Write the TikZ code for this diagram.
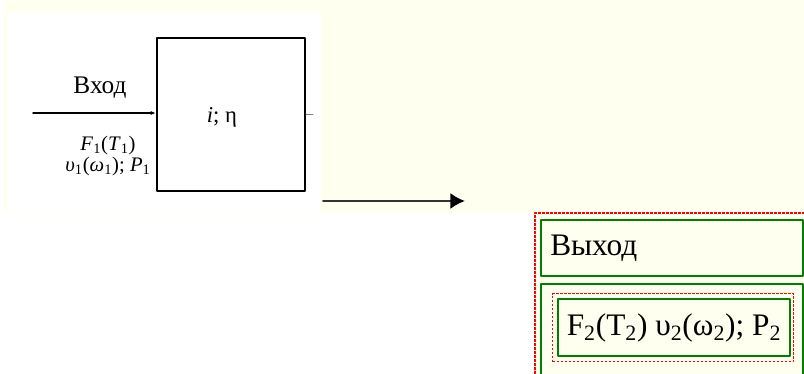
\documentclass[tikz,border=0pt]{standalone}
\usepackage{fontspec}
\setmainfont{Liberation Serif}
\usetikzlibrary{arrows.meta}
\definecolor{paper}{RGB}{255,255,240}
\definecolor{cellgreen}{RGB}{0,128,0}
\begin{document}
\begin{tikzpicture}[x=0.75pt,y=-0.75pt,line cap=round,line join=round,
  scan/.style={font=\fontsize{15.5}{16}\selectfont,inner sep=0pt},
  cell/.style={draw=cellgreen,line width=1.5pt,anchor=north west,inner sep=0pt},
  reddots/.style={draw=red,line width=1pt,line cap=butt,dash pattern=on 2pt off 1pt},
  tab/.style={font=\fontsize{23.5}{26}\selectfont,inner sep=0pt}]
\useasboundingbox (0,0) rectangle (804,374);
\fill[paper] (4,0) rectangle (804,213);
\fill[white] (7,13) rectangle (321,212);
\fill[paper] (535,213) rectangle (804,374);
% scanned block
\node[draw,line width=1.5pt,minimum width=111pt,minimum height=114.75pt] (blk) at (231,114.5) {};
\node[scan,font=\fontsize{17}{19}\selectfont] (ratio) at (222,117) {\textit{i}; η};
\coordinate (in) at (33,113);
\draw[line width=1.1pt,-{Latex[length=4pt,width=3pt]}] (in) -- (in -| blk.west);
\coordinate (tick) at (313,115);
\draw[black!50,line width=0.75pt] (blk.east |- tick) -- (tick);
\node[scan,font=\fontsize{19}{21}\selectfont] (vhod) at (100,88) {Вход};
\node[scan,align=center] (loads) at (108,156)
  {\textit{F}\textsubscript{1}(\textit{T}\textsubscript{1})\\
   \textit{υ}\textsubscript{1}(\textit{ω}\textsubscript{1}); \textit{P}\textsubscript{1}};
% output arrow
\coordinate (outA) at (323,201);
\coordinate (outB) at (465,201);
\draw[black!80,line width=1.5pt,-{Latex[length=11pt,width=12pt,color=black]}] (outA) -- (outB);
% table
\draw[reddots] (535,374) -- (535,213) -- (804,213);
\node[cell,minimum width=196.5pt,minimum height=42pt] (c1) at (540,219) {};
\node[cell,minimum width=196.5pt,minimum height=69pt] (c2) at (540,283) {};
\node[tab,anchor=west] (vyhod) at (550,248) {Выход};
\node[reddots,anchor=north west,minimum width=180.75pt,minimum height=51pt] (frame) at (552,293) {};
\node[cell,minimum width=174pt,minimum height=42.75pt] (c3) at (557,298) {};
\node[tab] (out) at (c3.center) {F\textsubscript{2}(T\textsubscript{2}) υ\textsubscript{2}(ω\textsubscript{2}); P\textsubscript{2}};
\end{tikzpicture}
\end{document}
